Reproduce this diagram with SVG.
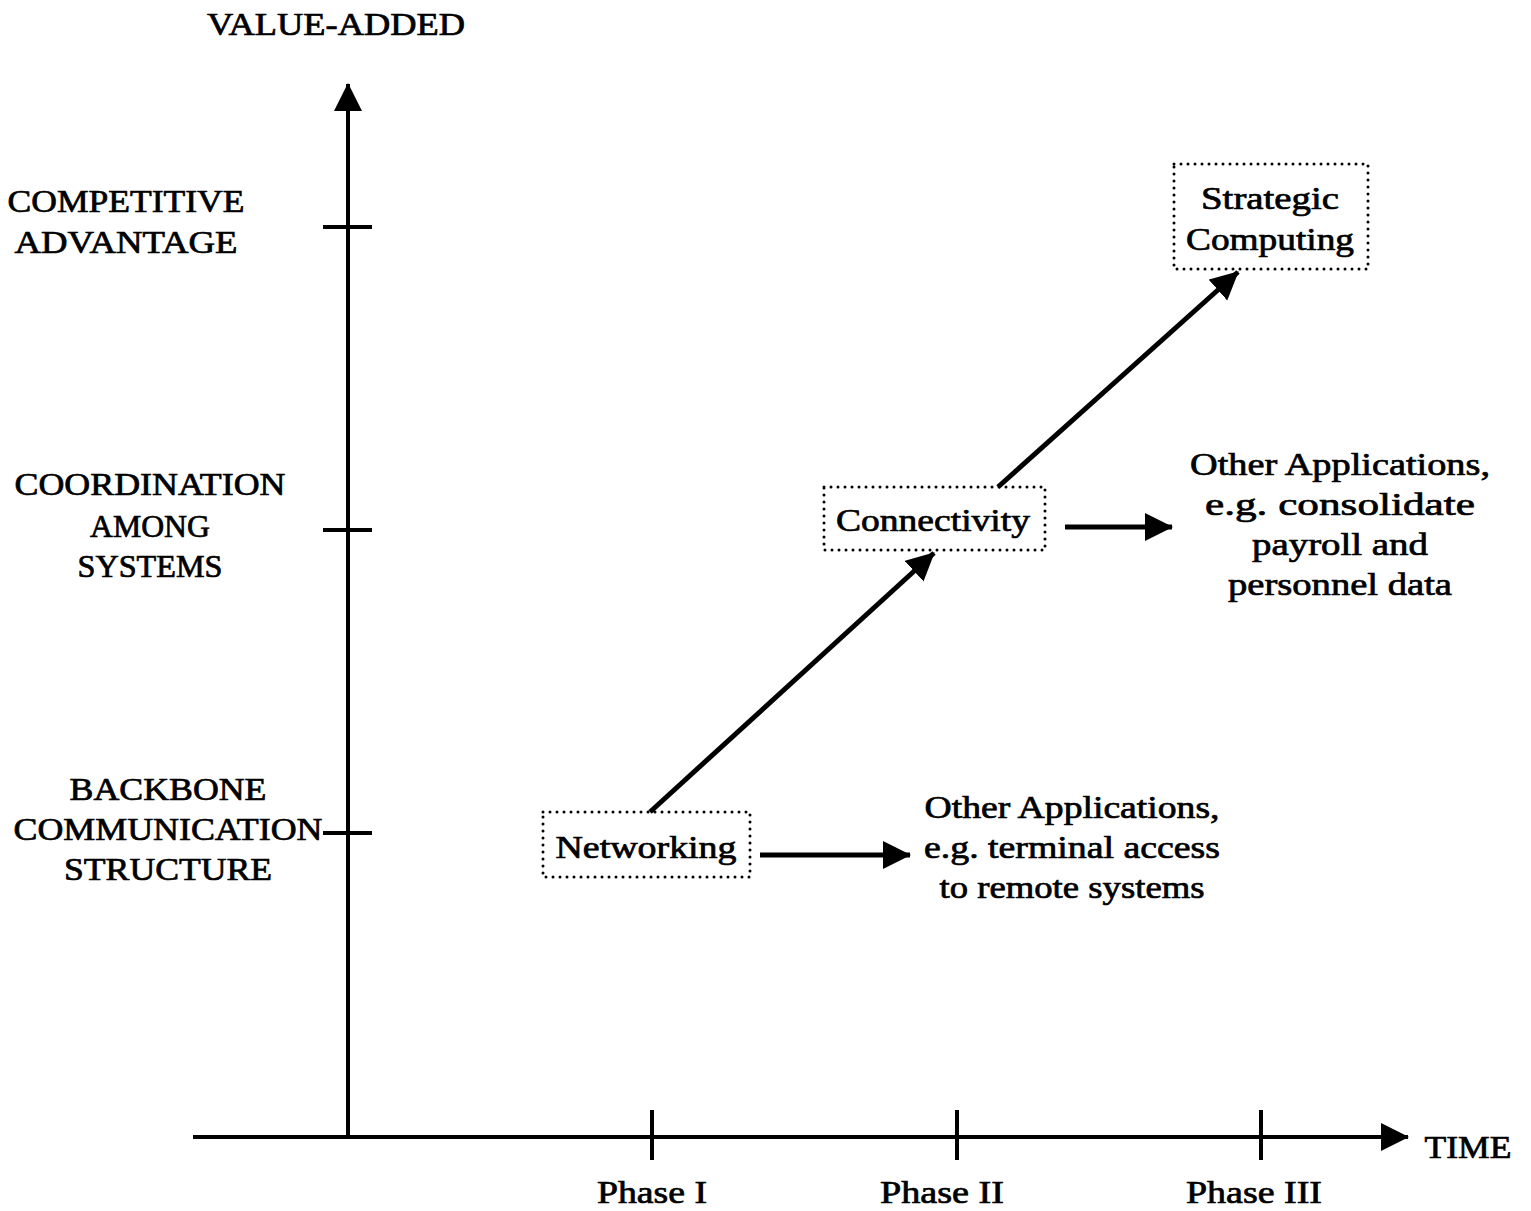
<svg xmlns="http://www.w3.org/2000/svg" width="1531" height="1211" viewBox="0 0 1531 1211">
<style>
text{font-family:"Liberation Serif","DejaVu Serif",serif;font-size:31px;fill:#000;stroke:#000;stroke-width:0.7}
.c{text-anchor:middle}
.ax{stroke:#000;stroke-width:4;fill:none}
.ln{stroke:#000;stroke-width:5;fill:none}
.box{fill:none;stroke:#000;stroke-width:3;stroke-dasharray:0 7;stroke-linecap:round}
</style>
<defs>
<marker id="ah" markerUnits="userSpaceOnUse" markerWidth="30" markerHeight="30" refX="27" refY="14" orient="auto">
<path d="M0,0 L28,14 L0,28 Z" fill="#000"/>
</marker>
</defs>
<g id="axes">
<line class="ax" x1="348" y1="1137" x2="348" y2="84" marker-end="url(#ah)"/>
<line class="ax" x1="193" y1="1137" x2="1408" y2="1137" marker-end="url(#ah)"/>
<line class="ax" x1="323" y1="227" x2="372" y2="227"/>
<line class="ax" x1="323" y1="530" x2="372" y2="530"/>
<line class="ax" x1="323" y1="833" x2="372" y2="833"/>
<line class="ax" x1="652" y1="1110" x2="652" y2="1160"/>
<line class="ax" x1="957" y1="1110" x2="957" y2="1160"/>
<line class="ax" x1="1261" y1="1110" x2="1261" y2="1160"/>
</g>
<g id="axis-labels">
<text x="336" y="35" class="c" textLength="258" lengthAdjust="spacingAndGlyphs">VALUE-ADDED</text>
<text x="126" y="212" class="c" textLength="237" lengthAdjust="spacingAndGlyphs">COMPETITIVE</text>
<text x="126" y="253" class="c" textLength="223" lengthAdjust="spacingAndGlyphs">ADVANTAGE</text>
<text x="150" y="495" class="c" textLength="271" lengthAdjust="spacingAndGlyphs">COORDINATION</text>
<text x="150" y="537" class="c" textLength="120" lengthAdjust="spacingAndGlyphs">AMONG</text>
<text x="150" y="577" class="c" textLength="145" lengthAdjust="spacingAndGlyphs">SYSTEMS</text>
<text x="168" y="800" class="c" textLength="197" lengthAdjust="spacingAndGlyphs">BACKBONE</text>
<text x="168" y="840" class="c" textLength="309" lengthAdjust="spacingAndGlyphs">COMMUNICATION</text>
<text x="168" y="880" class="c" textLength="208" lengthAdjust="spacingAndGlyphs">STRUCTURE</text>
<text x="1468" y="1158" class="c" textLength="87" lengthAdjust="spacingAndGlyphs">TIME</text>
<text x="652" y="1203" class="c" textLength="110" lengthAdjust="spacingAndGlyphs">Phase I</text>
<text x="942" y="1203" class="c" textLength="124" lengthAdjust="spacingAndGlyphs">Phase II</text>
<text x="1254" y="1203" class="c" textLength="136" lengthAdjust="spacingAndGlyphs">Phase III</text>
</g>
<g id="connectors">
<line class="ln" x1="650" y1="812" x2="934" y2="553" marker-end="url(#ah)"/>
<line class="ln" x1="998" y1="487" x2="1238" y2="272" marker-end="url(#ah)"/>
<line class="ln" x1="760" y1="855" x2="910" y2="855" marker-end="url(#ah)"/>
<line class="ln" x1="1065" y1="527" x2="1172" y2="527" marker-end="url(#ah)"/>
</g>
<g id="networking">
<rect class="box" x="543" y="812" width="207" height="65"/>
<text x="646" y="858" class="c" textLength="181" lengthAdjust="spacingAndGlyphs">Networking</text>
</g>
<g id="connectivity">
<rect class="box" x="824" y="487" width="221" height="63"/>
<text x="933" y="531" class="c" textLength="194" lengthAdjust="spacingAndGlyphs">Connectivity</text>
</g>
<g id="strategic-computing">
<rect class="box" x="1174" y="164" width="194" height="105"/>
<text x="1270" y="209" class="c" textLength="138" lengthAdjust="spacingAndGlyphs">Strategic</text>
<text x="1270" y="250" class="c" textLength="168" lengthAdjust="spacingAndGlyphs">Computing</text>
</g>
<g id="other-apps-1">
<text x="1072" y="818" class="c" textLength="295" lengthAdjust="spacingAndGlyphs">Other Applications,</text>
<text x="1072" y="858" class="c" textLength="296" lengthAdjust="spacingAndGlyphs">e.g. terminal access</text>
<text x="1072" y="898" class="c" textLength="265" lengthAdjust="spacingAndGlyphs">to remote systems</text>
</g>
<g id="other-apps-2">
<text x="1340" y="475" class="c" textLength="300" lengthAdjust="spacingAndGlyphs">Other Applications,</text>
<text x="1340" y="515" class="c" textLength="270" lengthAdjust="spacingAndGlyphs">e.g. consolidate</text>
<text x="1340" y="555" class="c" textLength="176" lengthAdjust="spacingAndGlyphs">payroll and</text>
<text x="1340" y="595" class="c" textLength="224" lengthAdjust="spacingAndGlyphs">personnel data</text>
</g>
</svg>
